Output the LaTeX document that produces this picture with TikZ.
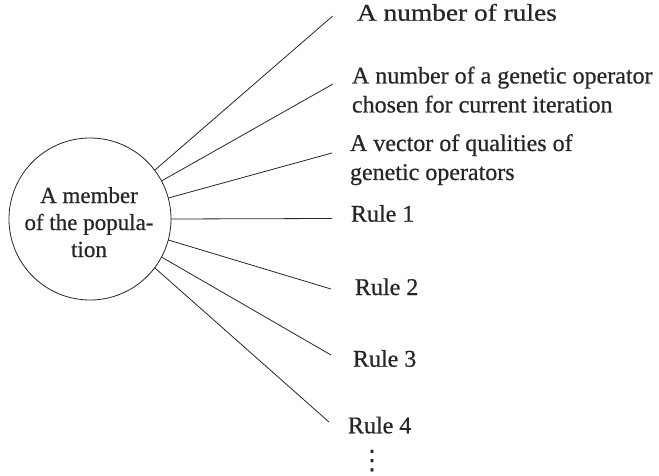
\documentclass[tikz,border=0pt]{standalone}
\usepackage{fontspec}
\setmainfont[FakeBold=0.6]{Liberation Serif}
\newfontfamily\dotsfont{DejaVu Sans}
\begin{document}
\begin{tikzpicture}[x=1pt,y=-1pt,
  every node/.style={inner sep=0pt, outer sep=0pt, text=black!85},
  lab/.style={anchor=base west, align=left, font=\fontsize{24}{29}\selectfont},
  con/.style={draw=black!85, line width=0.8pt},
  member/.style={circle, draw=black!85, line width=0.8pt, minimum size=162pt}]
\useasboundingbox (0,0) rectangle (659,476);
\node[member] (m) at (90,219) {};
\node[anchor=base, align=center, font=\fontsize{23}{27}\selectfont] (mt) at (89,257) {A member\\of the popula-\\tion};
\node[lab] (l1) at (357,20.7) {\addfontfeature{FakeStretch=1.14}A number of rules};
\node[lab] (l2) at (352,112.5) {A number of a genetic operator\\chosen for current iteration};
\node[lab] (l3) at (350,180) {A vector of qualities of\\genetic operators};
\node[lab] (l4) at (351,221.7) {Rule 1};
\node[lab] (l5) at (355,295) {Rule 2};
\node[lab] (l6) at (353,366.7) {Rule 3};
\node[lab] (l7) at (348,433.3) {Rule 4};
\node[font=\dotsfont\fontsize{27}{27}\selectfont] (dots) at (372,461) {⋮};
\coordinate (e1) at (332.7,16);
\coordinate (e2) at (333,84);
\coordinate (e3) at (332,153);
\coordinate (e4) at (332,218.5);
\coordinate (e5) at (331,289);
\coordinate (e6) at (331,355);
\coordinate (e7) at (329,422);
\draw[con] (m.37) -- (e1);
\draw[con] (m.28) -- (e2);
\draw[con] (m.15.5) -- (e3);
\draw[con] (m.0) -- (e4);
\draw[con] (m.-15.5) -- (e5);
\draw[con] (m.-28) -- (e6);
\draw[con] (m.-37) -- (e7);
\end{tikzpicture}
\end{document}
